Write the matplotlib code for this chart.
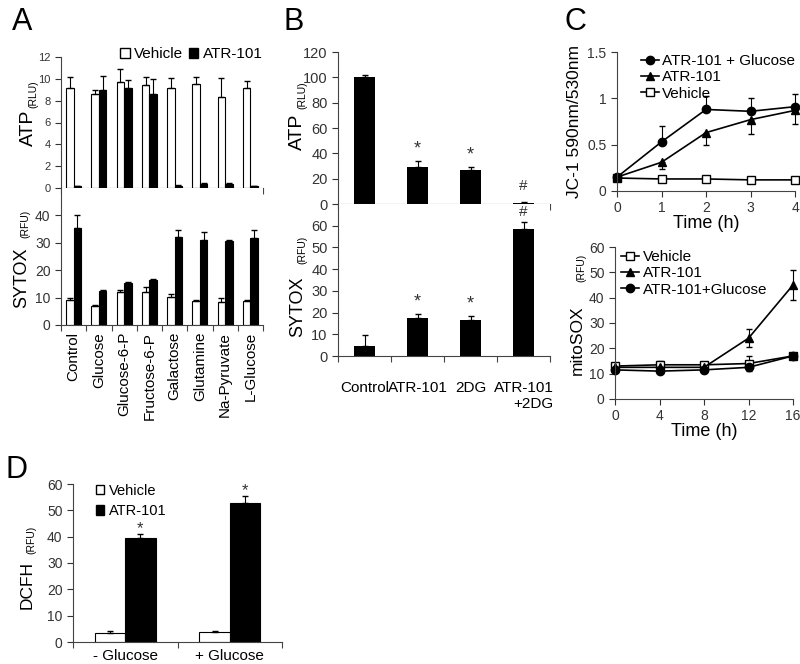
import numpy as np
import matplotlib
matplotlib.use("Agg")
import matplotlib.pyplot as plt
from matplotlib.patches import Patch
from matplotlib.lines import Line2D

plt.rcParams['font.family'] = ['Liberation Sans', 'DejaVu Sans']

# ---- data ----
a_cats = ['Control', 'Glucose', 'Glucose-6-P', 'Fructose-6-P', 'Galactose',
          'Glutamine', 'Na-Pyruvate', 'L-Glucose']
a_atp_veh = [9.2, 8.6, 9.7, 9.4, 9.2, 9.5, 8.3, 9.2]
a_atp_veh_err = [1.0, 0.4, 1.2, 0.8, 0.9, 0.7, 1.8, 0.6]
a_atp_atr = [0.15, 9.0, 9.2, 8.6, 0.2, 0.4, 0.4, 0.15]
a_atp_atr_err = [0.05, 1.3, 0.7, 1.4, 0.05, 0.1, 0.1, 0.05]
a_sy_veh = [9.0, 7.0, 12.2, 12.0, 10.2, 8.7, 8.5, 8.7]
a_sy_veh_err = [0.8, 0.4, 0.4, 1.8, 1.2, 0.6, 1.5, 0.5]
a_sy_atr = [35.5, 12.5, 15.5, 16.5, 32.0, 31.0, 30.7, 31.7]
a_sy_atr_err = [4.5, 0.4, 0.3, 0.2, 2.5, 3.0, 0.3, 3.0]

b_cats = ['Control', 'ATR-101', '2DG', 'ATR-101\n+2DG']
b_atp = [100, 29, 27, 1]
b_atp_err = [2, 5, 2, 0.5]
b_atp_marks = ['', '*', '*', '#']
b_sy = [4.5, 17.5, 16.5, 58.5]
b_sy_err = [5, 2, 2, 3]
b_sy_marks = ['', '*', '*', '#']

c1_time = [0, 1, 2, 3, 4]
c1_atr_glc = [0.15, 0.53, 0.88, 0.86, 0.91]
c1_atr_glc_err = [0.02, 0.17, 0.15, 0.14, 0.14]
c1_atr = [0.15, 0.31, 0.63, 0.77, 0.87]
c1_atr_err = [0.02, 0.07, 0.13, 0.15, 0.15]
c1_veh = [0.14, 0.13, 0.13, 0.12, 0.12]

c2_time = [0, 4, 8, 12, 16]
c2_veh = [13.0, 13.5, 13.5, 14.0, 17.0]
c2_veh_err = [1.0, 1.5, 1.0, 3.0, 1.0]
c2_atr = [12.5, 12.5, 12.5, 24.0, 45.0]
c2_atr_err = [1.0, 1.0, 1.0, 3.5, 6.0]
c2_atr_glc = [11.5, 11.0, 11.5, 12.5, 17.0]
c2_atr_glc_err = [0.8, 0.8, 0.8, 1.0, 0.8]

d_cats = ['- Glucose', '+ Glucose']
d_veh = [3.3, 3.8]
d_veh_err = [0.8, 0.5]
d_atr = [39.5, 52.8]
d_atr_err = [1.5, 2.5]
d_marks = ['*', '*']

W, H = 800, 664
fig = plt.figure(figsize=(8, 6.64), dpi=100)


def px_axes(x0, y0, x1, y1):
    return fig.add_axes([x0 / W, 1 - y1 / H, (x1 - x0) / W, (y1 - y0) / H])


def style(ax, fs=10):
    ax.spines['top'].set_visible(False)
    ax.spines['right'].set_visible(False)
    ax.tick_params(direction='out', length=4, width=0.8, labelsize=fs, colors='#333333')
    for s in ax.spines.values():
        s.set_color('#444444')


def ylab(main, sub, xm, ym, xs, ys, fm=14, fsub=7.5):
    fig.text(xm / W, 1 - ym / H, main, rotation=90, ha='center', va='center', fontsize=fm)
    fig.text(xs / W, 1 - ys / H, sub, rotation=90, ha='center', va='center', fontsize=fsub)


def cat_axis(ax, n, labels=None, fs=11, rot=0, pad=3):
    ax.set_xlim(-0.5, n - 0.5)
    ax.set_xticks(np.arange(n))
    ax.set_xticks(np.arange(n + 1) - 0.5, minor=True)
    ax.tick_params(axis='x', which='major', length=0, pad=pad)
    ax.tick_params(axis='x', which='minor', length=4, width=0.8, color='#444444')
    if labels is None:
        ax.set_xticklabels([])
    else:
        ax.set_xticklabels(labels, rotation=rot, fontsize=fs, color='black')


def updown(err):
    return [np.zeros(len(err)), err]


# ---- panel A ----
x = np.arange(len(a_cats))
bw = 0.3
axA1 = px_axes(61, 57, 263, 188)
style(axA1, 8)
axA1.bar(x - bw / 2, a_atp_veh, bw, color='white', edgecolor='black', lw=0.8)
axA1.bar(x + bw / 2, a_atp_atr, bw, color='black', edgecolor='black', lw=0.8)
axA1.errorbar(x - bw / 2, a_atp_veh, yerr=updown(a_atp_veh_err), fmt='none', ecolor='black', capsize=2, elinewidth=0.8)
axA1.errorbar(x + bw / 2, a_atp_atr, yerr=updown(a_atp_atr_err), fmt='none', ecolor='black', capsize=2, elinewidth=0.8)
axA1.set_ylim(0, 12)
axA1.set_yticks(np.arange(0, 13, 2))
cat_axis(axA1, len(a_cats))
axA1.legend(handles=[Patch(facecolor='white', edgecolor='black', label='Vehicle'),
                     Patch(facecolor='black', edgecolor='black', label='ATR-101')],
            loc='upper right', ncol=2, frameon=False, fontsize=11, handlelength=0.6,
            handleheight=0.6, handletextpad=0.3, columnspacing=0.4,
            bbox_to_anchor=(1.03, 1.12), borderaxespad=0)

axA2 = px_axes(61, 188, 263, 325)
style(axA2, 10)
axA2.bar(x - bw / 2, a_sy_veh, bw, color='white', edgecolor='black', lw=0.8)
axA2.bar(x + bw / 2, a_sy_atr, bw, color='black', edgecolor='black', lw=0.8)
axA2.errorbar(x - bw / 2, a_sy_veh, yerr=updown(a_sy_veh_err), fmt='none', ecolor='black', capsize=2, elinewidth=0.8)
axA2.errorbar(x + bw / 2, a_sy_atr, yerr=updown(a_sy_atr_err), fmt='none', ecolor='black', capsize=2, elinewidth=0.8)
axA2.set_ylim(0, 50)
axA2.set_yticks(np.arange(0, 41, 10))
cat_axis(axA2, len(a_cats), a_cats, fs=11, rot=90, pad=5)

ylab('ATP', '(RLU)', 28, 128, 33, 94, fm=14)
ylab('SYTOX', '(RFU)', 22, 278, 25, 224, fm=13)
fig.text(12 / W, 1 - 22 / H, 'A', fontsize=22, ha='left', va='center')

# ---- panel B ----
xb = np.arange(len(b_cats))
bwb = 0.4
axB1 = px_axes(338, 52, 550, 204)
style(axB1, 10.5)
axB1.bar(xb, b_atp, bwb, color='black')
axB1.errorbar(xb, b_atp, yerr=updown(b_atp_err), fmt='none', ecolor='black', capsize=2, elinewidth=0.8)
for xi, v, e, m in zip(xb, b_atp, b_atp_err, b_atp_marks):
    if m:
        off = 7 if m == '#' else 3
        axB1.text(xi, v + e + off, m, ha='center', va='bottom', fontsize=11 if m == '#' else 13, color='#333333')
axB1.set_ylim(0, 120)
axB1.set_yticks(np.arange(0, 121, 20))
cat_axis(axB1, len(b_cats))

axB2 = px_axes(338, 204, 550, 356)
style(axB2, 10.5)
axB2.bar(xb, b_sy, bwb, color='black')
axB2.errorbar(xb, b_sy, yerr=updown(b_sy_err), fmt='none', ecolor='black', capsize=2, elinewidth=0.8)
for xi, v, e, m in zip(xb, b_sy, b_sy_err, b_sy_marks):
    if m:
        axB2.text(xi, v + e + 1.5, m, ha='center', va='bottom', fontsize=11 if m == '#' else 13, color='#333333')
axB2.set_ylim(0, 70)
axB2.set_yticks(np.arange(0, 61, 10))
cat_axis(axB2, len(b_cats), b_cats, fs=11, pad=18)
for lbl in axB2.get_xticklabels():
    lbl.set_multialignment('right')

ylab('ATP', '(RLU)', 297, 132, 302, 95, fm=14)
ylab('SYTOX', '(RFU)', 298, 307, 302, 250, fm=13)
fig.text(284 / W, 1 - 22 / H, 'B', fontsize=22, ha='left', va='center')

# ---- panel C top ----
axC1 = px_axes(617, 52, 795, 191)
style(axC1, 10)
axC1.errorbar(c1_time, c1_atr_glc, yerr=updown(c1_atr_glc_err), color='black', marker='o', ms=6,
              lw=1.2, capsize=2, elinewidth=0.8, clip_on=False, label='ATR-101 + Glucose')
axC1.errorbar(c1_time, c1_atr, yerr=[c1_atr_err, np.zeros(len(c1_atr_err))], color='black', marker='^', ms=6,
              lw=1.2, capsize=2, elinewidth=0.8, clip_on=False, label='ATR-101')
axC1.plot(c1_time, c1_veh, color='black', marker='s', ms=6, mfc='white', lw=1.2, clip_on=False, label='Vehicle')
axC1.set_xlim(0, 4)
axC1.set_ylim(0, 1.5)
axC1.set_xticks(c1_time)
axC1.set_yticks([0, 0.5, 1, 1.5])
axC1.set_yticklabels(['0', '0.5', '1', '1.5'])
axC1.set_xlabel('Time (h)', fontsize=13, labelpad=0)
axC1.set_ylabel('JC-1 590nm/530nm', fontsize=12.5, labelpad=4)
axC1.legend(handles=[Line2D([], [], color='black', marker='o', ms=6, lw=1.2, label='ATR-101 + Glucose'),
                     Line2D([], [], color='black', marker='^', ms=6, lw=1.2, label='ATR-101'),
                     Line2D([], [], color='black', marker='s', ms=6, mfc='white', lw=1.2, label='Vehicle')],
            loc='upper left', frameon=False, fontsize=11, handlelength=1.2, handletextpad=0.2,
            labelspacing=0.15, bbox_to_anchor=(0.1, 1.03), borderaxespad=0)
fig.text(565 / W, 1 - 22 / H, 'C', fontsize=22, ha='left', va='center')

# ---- panel C bottom ----
axC2 = px_axes(615, 247, 793, 399)
style(axC2, 10)
axC2.errorbar(c2_time, c2_veh, yerr=c2_veh_err, color='black', marker='s', ms=6, mfc='white',
              lw=1.2, capsize=2, elinewidth=0.8, clip_on=False)
axC2.errorbar(c2_time, c2_atr, yerr=c2_atr_err, color='black', marker='^', ms=6,
              lw=1.2, capsize=2, elinewidth=0.8, clip_on=False)
axC2.errorbar(c2_time, c2_atr_glc, yerr=c2_atr_glc_err, color='black', marker='o', ms=6,
              lw=1.2, capsize=2, elinewidth=0.8, clip_on=False)
axC2.set_xlim(0, 16)
axC2.set_ylim(0, 60)
axC2.set_xticks(c2_time)
axC2.set_yticks(np.arange(0, 61, 10))
axC2.set_xlabel('Time (h)', fontsize=13, labelpad=0)
axC2.legend(handles=[Line2D([], [], color='black', marker='s', ms=6, mfc='white', lw=1.2, label='Vehicle'),
                     Line2D([], [], color='black', marker='^', ms=6, lw=1.2, label='ATR-101'),
                     Line2D([], [], color='black', marker='o', ms=6, lw=1.2, label='ATR-101+Glucose')],
            loc='upper left', frameon=False, fontsize=11, handlelength=1.2, handletextpad=0.2,
            labelspacing=0.15, bbox_to_anchor=(0.0, 1.02), borderaxespad=0)
ylab('mitoSOX', '(RFU)', 577, 340, 581, 268, fm=12.5)

# ---- panel D ----
xd = np.arange(len(d_cats))
bwd = 0.29
axD = px_axes(73, 484, 282, 642)
style(axD, 10)
axD.bar(xd - bwd / 2, d_veh, bwd, color='white', edgecolor='black', lw=0.8)
axD.bar(xd + bwd / 2, d_atr, bwd, color='black', edgecolor='black', lw=0.8)
axD.errorbar(xd - bwd / 2, d_veh, yerr=updown(d_veh_err), fmt='none', ecolor='black', capsize=2, elinewidth=0.8)
axD.errorbar(xd + bwd / 2, d_atr, yerr=updown(d_atr_err), fmt='none', ecolor='black', capsize=2, elinewidth=0.8)
for xi, v, e, m in zip(xd, d_atr, d_atr_err, d_marks):
    axD.text(xi + bwd / 2, v + e + 2.2, m, ha='center', va='center', fontsize=12, color='#333333')
axD.set_ylim(0, 60)
axD.set_yticks(np.arange(0, 61, 10))
cat_axis(axD, len(d_cats), d_cats, fs=11, pad=5)
axD.legend(handles=[Patch(facecolor='white', edgecolor='black', label='Vehicle'),
                    Patch(facecolor='black', edgecolor='black', label='ATR-101')],
           loc='upper left', frameon=False, fontsize=10.5, handlelength=0.6, handleheight=0.6,
           handletextpad=0.3, labelspacing=0.45, bbox_to_anchor=(0.08, 1.04), borderaxespad=0)
ylab('DCFH', '(RFU)', 27, 585, 31, 540, fm=12.5)
fig.text(5 / W, 1 - 470 / H, 'D', fontsize=22, ha='left', va='center')

fig.savefig('out.png', dpi=100)
